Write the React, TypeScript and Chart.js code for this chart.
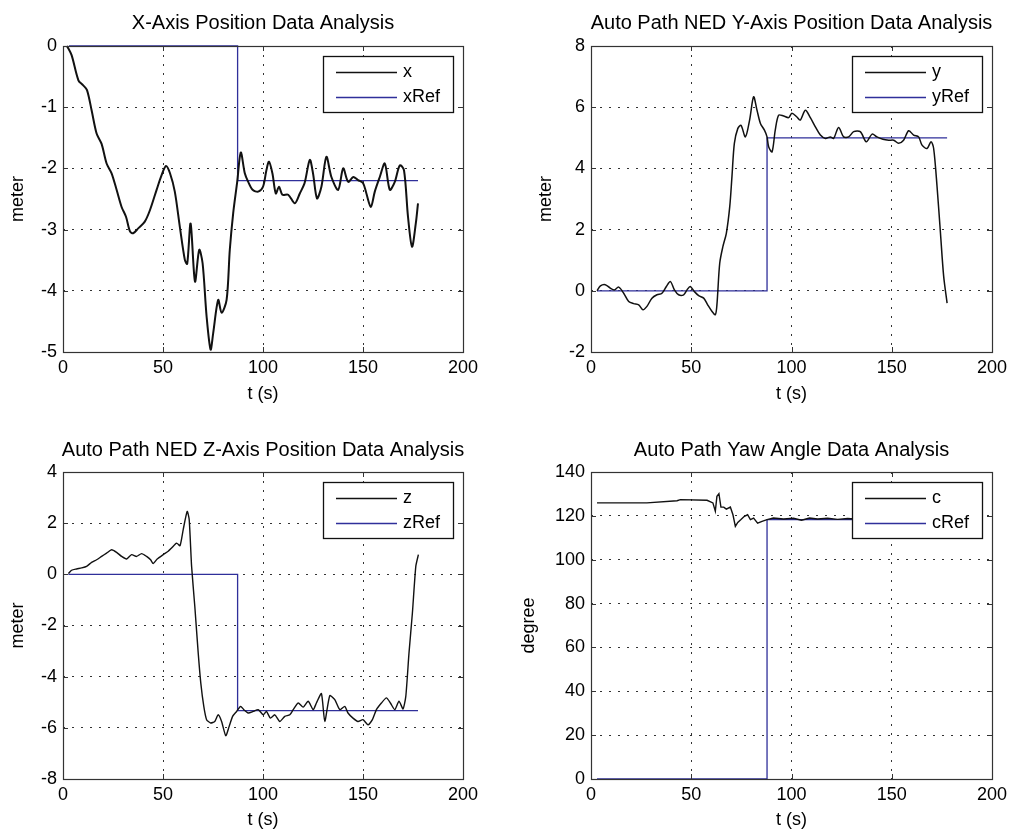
import React, { useEffect, useRef } from "react";
import { Chart, registerables } from "chart.js";

Chart.register(...registerables);

const FONT = "'Liberation Sans', Arial, Helvetica, sans-serif";
const REF_COLOR = "#2f2f9a";
const LINE_COLOR = "#111111";

// ---- X-axis position (meter) ----
const xTime = [2, 4.3, 7.7, 10, 12, 14.3, 16.8, 19.3, 21.8, 24.3, 26.8, 29.3, 31.5, 33.5, 35.1, 37.6, 40.9, 43.5, 46.8, 49.3, 51.5, 53.5, 55.9, 58.4, 60.9, 62.1, 63.8, 66, 68.1, 69.8, 71.8, 73.8, 75.1, 77.6, 79.3, 81.8, 83.4, 85.1, 87.1, 88.9, 90.9, 92.6, 94.8, 97.6, 100, 101.7, 103, 104.7, 106.4, 108, 109.7, 112.6, 115.9, 118.4, 120.8, 123.4, 125, 127, 129.2, 131.7, 134.2, 137.6, 140.1, 142.6, 145.1, 147.5, 150, 151.7, 153.9, 155.9, 158.4, 160.9, 163.4, 165.9, 168.4, 170.5, 172.5, 174.5, 176.4, 177.5];
const xPos = [0, -0.15, -0.56, -0.64, -0.72, -1.05, -1.43, -1.6, -1.92, -2.08, -2.35, -2.63, -2.79, -3.03, -3.06, -2.98, -2.87, -2.68, -2.35, -2.11, -1.96, -2.08, -2.38, -2.95, -3.49, -3.56, -2.9, -3.85, -3.33, -3.55, -4.42, -4.96, -4.69, -4.15, -4.36, -4.15, -3.33, -2.73, -2.22, -1.74, -2.08, -2.22, -2.35, -2.38, -2.3, -2.03, -1.89, -2.08, -2.41, -2.3, -2.43, -2.43, -2.57, -2.41, -2.24, -1.86, -2.08, -2.49, -2.3, -1.81, -2.14, -2.35, -2.0, -2.22, -2.14, -2.19, -2.24, -2.41, -2.63, -2.38, -2.14, -1.92, -2.35, -2.22, -1.95, -2.03, -2.79, -3.28, -2.9, -2.57];
const xRefTime = [3, 87.3, 87.3, 177.5];
const xRefPos = [0, 0, -2.2, -2.2];

// ---- NED Y-axis position (meter) ----
const yTime = [3, 4.7, 7.1, 9.6, 11.6, 13.8, 16.3, 18.8, 21.3, 23.8, 25.9, 27.9, 30.4, 32.9, 35.4, 37.6, 39.6, 41.6, 43.7, 46.2, 47.9, 49.5, 51.5, 53.7, 56.2, 58.2, 60.3, 62, 62.8, 64.2, 65.8, 67.5, 69.2, 70.3, 71.5, 73.2, 74.8, 77, 79.1, 81.1, 82.8, 84.5, 86.5, 87.8, 88.6, 90.3, 91.9, 93.6, 96.1, 98.6, 100.2, 102.7, 104.4, 106.9, 109.4, 111.9, 114.4, 116.9, 119.4, 121, 123.5, 126, 128.5, 131, 134.3, 137.3, 140.2, 142.6, 145.6, 148.5, 151, 153.4, 155.9, 158.4, 160.9, 163.4, 165.1, 167.6, 169.6, 170.9, 172.6, 174.3, 175.9, 177.6];
const yPos = [0, 0.16, 0.2, 0.09, 0.03, 0.12, -0.08, -0.35, -0.42, -0.46, -0.62, -0.51, -0.24, -0.13, -0.08, 0.14, 0.3, 0.03, -0.13, -0.13, 0.03, 0.14, -0.02, -0.16, -0.24, -0.46, -0.67, -0.78, -0.46, 0.9, 1.45, 1.88, 2.75, 3.73, 4.82, 5.3, 5.41, 5.03, 5.58, 6.34, 5.9, 5.47, 5.25, 5.03, 4.71, 4.54, 5.25, 5.74, 5.71, 5.66, 5.8, 5.68, 5.58, 5.9, 5.66, 5.36, 5.09, 4.98, 5.03, 4.98, 5.34, 5.03, 5.03, 5.2, 5.2, 4.87, 5.12, 5.03, 4.95, 4.92, 4.92, 4.82, 4.92, 5.23, 5.09, 5.03, 4.76, 4.65, 4.87, 4.65, 3.4, 1.88, 0.47, -0.4];
const yRefTime = [3, 87.8, 87.8, 177.6];
const yRefPos = [0, 0, 5, 5];

// ---- NED Z-axis position (meter) ----
const zTime = [2.7, 4.3, 6.8, 9.3, 11.8, 14.3, 16.8, 19.3, 21.8, 24.3, 26.8, 29.3, 31.8, 34.3, 36.8, 39.3, 41.8, 43.8, 45.1, 47.1, 50.1, 52.6, 54.3, 56.8, 58.5, 60.1, 62.1, 63.1, 64.3, 65.9, 67.6, 68.9, 70.4, 71.8, 73.8, 75.9, 77.6, 79.3, 81.4, 83.1, 84.8, 86.8, 88.8, 90.4, 92.6, 95.1, 97.6, 100.1, 101.7, 103.7, 105.9, 108.4, 110.9, 113.4, 115.1, 117.6, 120.1, 122.6, 125.1, 126.7, 129.2, 130.9, 133.4, 135.9, 138.4, 140.9, 142.5, 145, 147.5, 150, 152.5, 154.7, 156.7, 159.2, 161.7, 163.7, 165.9, 168, 170, 171.4, 173, 174.7, 176.4, 177.7];
const zPos = [0.03, 0.16, 0.21, 0.25, 0.31, 0.47, 0.57, 0.7, 0.83, 0.96, 0.86, 0.7, 0.6, 0.77, 0.7, 0.81, 0.7, 0.57, 0.42, 0.6, 0.77, 0.9, 1.03, 1.22, 1.12, 1.75, 2.46, 2.14, 0.31, -1.25, -3.07, -4.25, -5.16, -5.68, -5.81, -5.75, -5.49, -5.75, -6.31, -5.94, -5.55, -5.36, -5.16, -5.29, -5.42, -5.36, -5.29, -5.49, -5.36, -5.62, -5.49, -5.75, -5.55, -5.49, -5.29, -5.03, -5.19, -4.96, -5.29, -5.03, -4.66, -5.75, -4.74, -4.9, -5.29, -5.16, -5.42, -5.62, -5.75, -5.68, -5.88, -5.68, -5.29, -5.03, -4.83, -5.03, -5.29, -4.96, -5.26, -4.77, -3.07, -1.51, 0.31, 0.77];
const zRefTime = [2.7, 87.3, 87.3, 177.5];
const zRefPos = [0, 0, -5.33, -5.33];

// ---- Yaw angle (degree) ----
const yawTime = [3, 27.9, 42.9, 44.6, 57.9, 60.8, 62, 62.8, 63.8, 64.8, 66.2, 67.5, 69.5, 70.8, 72, 73.2, 74.8, 76.5, 78.1, 79.5, 81.1, 83.1, 85.3, 87.8, 91, 96, 101, 105, 109, 113, 118, 123, 128, 133, 140, 150, 160, 170, 177];
const yawAngle = [125.9, 125.9, 126.9, 127.4, 127.1, 125.9, 122.1, 128.9, 130.1, 124, 124, 123.1, 124, 120.5, 115.2, 117, 118.3, 119.8, 120.5, 118.3, 119, 116.7, 117.5, 118.3, 119, 118.6, 118.9, 118, 119, 118.6, 118.9, 118.4, 118.8, 118.5, 118.3, 118.6, 118.2, 118.5, 118.3];
const yawRefTime = [3, 87.8, 87.8, 177];
const yawRefAngle = [0, 0, 118.3, 118.3];

const timeTicks = { min: 0, max: 200, step: 50 };

type PanelSpec = {
  title: string;
  yLabel: string;
  name: string;
  refName: string;
  t: number[];
  v: number[];
  refT: number[];
  refV: number[];
  yMin: number;
  yMax: number;
  yStep: number;
  tension: number;
  lineWidth: number;
  // layout
  left: number;
  top: number;
  width: number;
  height: number;
  yAxisW: number;
  padTop: number;
  padRight: number;
  xAxisH: number;
  titleY: number;
  yTitlePad: number;
  xTitlePad: number;
};

const panels: PanelSpec[] = [
  {
    title: "X-Axis Position Data Analysis", yLabel: "meter", name: "x", refName: "xRef",
    t: xTime, v: xPos, refT: xRefTime, refV: xRefPos, yMin: -5, yMax: 0, yStep: 1, tension: 0.3, lineWidth: 2,
    left: 0, top: 0, width: 506, height: 417, yAxisW: 63, padTop: 46, padRight: 43, xAxisH: 65,
    titleY: 23, yTitlePad: 7, xTitlePad: 12,
  },
  {
    title: "Auto Path NED Y-Axis Position Data Analysis", yLabel: "meter", name: "y", refName: "yRef",
    t: yTime, v: yPos, refT: yRefTime, refV: yRefPos, yMin: -2, yMax: 8, yStep: 2, tension: 0.3, lineWidth: 1.5,
    left: 506, top: 0, width: 507, height: 417, yAxisW: 85, padTop: 46, padRight: 21, xAxisH: 65,
    titleY: 23, yTitlePad: 29, xTitlePad: 12,
  },
  {
    title: "Auto Path NED Z-Axis Position Data Analysis", yLabel: "meter", name: "z", refName: "zRef",
    t: zTime, v: zPos, refT: zRefTime, refV: zRefPos, yMin: -8, yMax: 4, yStep: 2, tension: 0.2, lineWidth: 1.4,
    left: 0, top: 417, width: 506, height: 417, yAxisW: 63, padTop: 55, padRight: 43, xAxisH: 55,
    titleY: 33, yTitlePad: 7, xTitlePad: 3,
  },
  {
    title: "Auto Path Yaw Angle Data Analysis", yLabel: "degree", name: "c", refName: "cRef",
    t: yawTime, v: yawAngle, refT: yawRefTime, refV: yawRefAngle, yMin: 0, yMax: 140, yStep: 20, tension: 0, lineWidth: 1.4,
    left: 506, top: 417, width: 507, height: 417, yAxisW: 85, padTop: 55, padRight: 21, xAxisH: 55,
    titleY: 33, yTitlePad: 12, xTitlePad: 3,
  },
];

const toPoints = (t: number[], v: number[]) => t.map((x, i) => ({ x, y: v[i] }));

// Box frame, inward tick marks, boxed legend and the panel title.
const decorPlugin = {
  id: "matlabDecor",
  afterDatasetsDraw(chart: any) {
    const { ctx, chartArea: a } = chart;
    const spec: PanelSpec = chart.options.plugins.matlabDecor.spec;
    const xs = chart.scales.x;
    const ys = chart.scales.y;
    ctx.save();

    // inner tick marks on all four sides
    ctx.strokeStyle = "#333";
    ctx.lineWidth = 1;
    const tl = 5;
    ctx.beginPath();
    xs.ticks.forEach((tk: any) => {
      const px = Math.round(xs.getPixelForValue(tk.value)) + 0.5;
      ctx.moveTo(px, a.bottom);
      ctx.lineTo(px, a.bottom - tl);
      ctx.moveTo(px, a.top);
      ctx.lineTo(px, a.top + tl);
    });
    ys.ticks.forEach((tk: any) => {
      const py = Math.round(ys.getPixelForValue(tk.value)) + 0.5;
      ctx.moveTo(a.left, py);
      ctx.lineTo(a.left + tl, py);
      ctx.moveTo(a.right, py);
      ctx.lineTo(a.right - tl, py);
    });
    ctx.stroke();

    // frame
    ctx.strokeStyle = "#333";
    ctx.lineWidth = 1.2;
    ctx.strokeRect(Math.round(a.left) + 0.5, Math.round(a.top) + 0.5, Math.round(a.right - a.left), Math.round(a.bottom - a.top));

    // legend box
    const lw = 130;
    const lh = 56;
    const lx = Math.round(a.right) - 10 - lw;
    const ly = Math.round(a.top) + 10;
    ctx.fillStyle = "#ffffff";
    ctx.fillRect(lx, ly, lw, lh);
    ctx.strokeStyle = "#111";
    ctx.lineWidth = 1.3;
    ctx.strokeRect(lx + 0.5, ly + 0.5, lw, lh);
    const rows = [
      { label: spec.name, color: LINE_COLOR },
      { label: spec.refName, color: REF_COLOR },
    ];
    ctx.font = `18px ${FONT}`;
    ctx.textBaseline = "middle";
    ctx.textAlign = "left";
    rows.forEach((r, i) => {
      const ry = ly + 16 + i * 25 + 0.5;
      ctx.strokeStyle = r.color;
      ctx.lineWidth = 1.3;
      ctx.beginPath();
      ctx.moveTo(lx + 13, ry);
      ctx.lineTo(lx + 74, ry);
      ctx.stroke();
      ctx.fillStyle = "#000";
      ctx.fillText(r.label, lx + 80, ry);
    });

    // title
    ctx.font = `20px ${FONT}`;
    ctx.textAlign = "center";
    ctx.textBaseline = "middle";
    ctx.fillStyle = "#000";
    ctx.fillText(spec.title, (a.left + a.right) / 2, spec.titleY);
    ctx.restore();
  },
};

function Panel({ spec }: { spec: PanelSpec }) {
  const ref = useRef<HTMLCanvasElement>(null);

  useEffect(() => {
    const canvas = ref.current;
    if (!canvas) return;
    const tickFont = { family: FONT, size: 18 };
    const chart = new Chart(canvas, {
      type: "line",
      data: {
        datasets: [
          {
            label: spec.name,
            data: toPoints(spec.t, spec.v),
            borderColor: LINE_COLOR,
            borderWidth: spec.lineWidth,
            pointRadius: 0,
            tension: spec.tension,
            clip: 4,
          },
          {
            label: spec.refName,
            data: toPoints(spec.refT, spec.refV),
            borderColor: REF_COLOR,
            borderWidth: 1.3,
            pointRadius: 0,
            tension: 0,
            clip: 4,
          },
        ],
      },
      plugins: [decorPlugin],
      options: {
        animation: false,
        responsive: false,
        devicePixelRatio: 1,
        events: [],
        layout: { padding: { top: spec.padTop, right: spec.padRight, left: 0, bottom: 0 } },
        plugins: {
          legend: { display: false },
          title: { display: false },
          tooltip: { enabled: false },
          matlabDecor: { spec },
        } as any,
        scales: {
          x: {
            type: "linear",
            min: timeTicks.min,
            max: timeTicks.max,
            afterFit: (s: any) => { s.height = spec.xAxisH; },
            ticks: { stepSize: timeTicks.step, font: tickFont, color: "#000", padding: 5, maxRotation: 0 },
            grid: { color: "#333", lineWidth: 1, drawTicks: false },
            border: { display: false, dash: [2, 7] },
            title: { display: true, text: "t (s)", font: tickFont, color: "#000", padding: { top: 0, bottom: spec.xTitlePad } },
          },
          y: {
            type: "linear",
            min: spec.yMin,
            max: spec.yMax,
            afterFit: (s: any) => { s.width = spec.yAxisW; },
            ticks: { stepSize: spec.yStep, font: tickFont, color: "#000", padding: 6 },
            grid: { color: "#333", lineWidth: 1, drawTicks: false },
            border: { display: false, dash: [2, 7] },
            title: { display: true, text: spec.yLabel, font: tickFont, color: "#000", padding: { top: spec.yTitlePad, bottom: 0 } },
          },
        },
      } as any,
    });
    return () => chart.destroy();
  }, [spec]);

  return (
    <canvas
      ref={ref}
      width={spec.width}
      height={spec.height}
      style={{ position: "absolute", left: spec.left, top: spec.top, width: spec.width, height: spec.height }}
    />
  );
}

export default function App() {
  return (
    <div style={{ position: "absolute", left: 0, top: 0, width: 1013, height: 834, background: "#fff", overflow: "hidden" }}>
      {panels.map((p) => (
        <Panel key={p.title} spec={p} />
      ))}
    </div>
  );
}
